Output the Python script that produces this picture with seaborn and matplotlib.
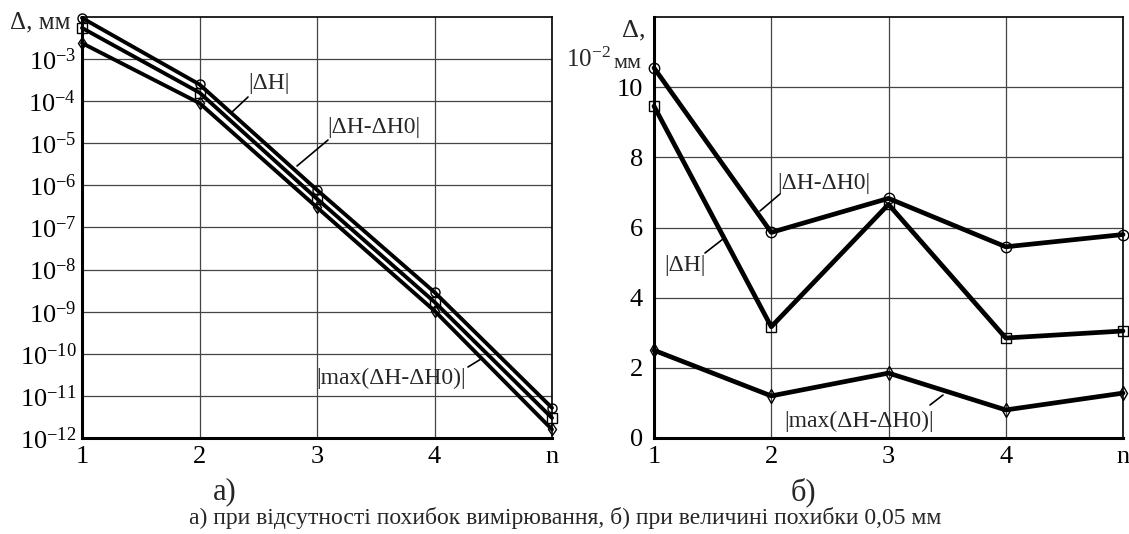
import numpy as np
import pandas as pd
import matplotlib
matplotlib.use("Agg")
import matplotlib.pyplot as plt
import seaborn as sns

sns.set_theme(style="white")
plt.rcParams['font.family'] = ['Liberation Serif', 'DejaVu Serif']
plt.rcParams['mathtext.fontset'] = 'custom'
plt.rcParams['mathtext.rm'] = 'Liberation Serif'
plt.rcParams['mathtext.it'] = 'Liberation Serif:italic'

# ---- data ----
n_values = [1, 2, 3, 4, 5]
x_tick_labels = ["1", "2", "3", "4", "n"]

# panel a) (log scale, mm)
a_dH = [9.5e-3, 2.5e-4, 7.8e-7, 2.9e-9, 5.2e-12]
a_dH_dH0 = [5.5e-3, 1.6e-4, 4.8e-7, 1.7e-9, 3.0e-12]
a_max = [2.4e-3, 9.0e-5, 3.0e-7, 1.05e-9, 1.6e-12]

# panel б) (10^-2 mm)
b_dH_dH0 = [10.55, 5.86, 6.83, 5.45, 5.8]
b_dH = [9.46, 3.17, 6.66, 2.85, 3.05]
b_max = [2.5, 1.2, 1.85, 0.8, 1.28]

a_yticks = [1e-12, 1e-11, 1e-10, 1e-9, 1e-8, 1e-7, 1e-6, 1e-5, 1e-4, 1e-3]
a_ytick_labels = [r"$10^{-12}$", r"$10^{-11}$", r"$10^{-10}$", r"$10^{-9}$", r"$10^{-8}$",
                  r"$10^{-7}$", r"$10^{-6}$", r"$10^{-5}$", r"$10^{-4}$", r"$10^{-3}$"]
b_yticks = [0, 2, 4, 6, 8, 10]

series_a = {"|ΔH|": (a_dH, "o"), "|ΔH-ΔH0|": (a_dH_dH0, "s"), "|max(ΔH-ΔH0)|": (a_max, "d")}
series_b = {"|ΔH-ΔH0|": (b_dH_dH0, "o"), "|ΔH|": (b_dH, "s"), "|max(ΔH-ΔH0)|": (b_max, "d")}

W, H = 1129, 534
fig = plt.figure(figsize=(W / 100, H / 100), dpi=100)
axA = fig.add_axes([82 / W, 1 - 438 / H, (552 - 82) / W, (438 - 17) / H])
axB = fig.add_axes([654 / W, 1 - 438 / H, (1123 - 654) / W, (438 - 17) / H])

for ax, series, lw, ms in ((axA, series_a, 2.8, 6.5), (axB, series_b, 3.4, 7.5)):
    for name, (vals, mk) in series.items():
        df = pd.DataFrame({"n": n_values, "v": vals})
        sns.lineplot(data=df, x="n", y="v", ax=ax, color="black", linewidth=lw,
                     marker=mk, markersize=ms, markerfacecolor="none",
                     markeredgecolor="black", markeredgewidth=1.0, clip_on=False, zorder=3)
    ax.set_xlim(1, 5)
    ax.set_xticks(n_values)
    ax.set_xticklabels(x_tick_labels, fontsize=19)
    ax.grid(True, color="#444444", linewidth=0.9)
    ax.set_xlabel("")
    ax.set_ylabel("")
    for s in ("top", "right"):
        ax.spines[s].set_color("black")
        ax.spines[s].set_linewidth(1.2)
    for s in ("left", "bottom"):
        ax.spines[s].set_color("black")
        ax.spines[s].set_linewidth(2.2)
    ax.tick_params(axis="both", length=0, pad=6, labelsize=19, colors="black")
    ax.set_axisbelow(True)

axA.set_yscale("log")
axA.set_ylim(1e-12, 1e-2)
axA.set_yticks(a_yticks)
axA.set_yticklabels(a_ytick_labels, fontsize=19)
axA.minorticks_off()
axA.tick_params(axis="y", pad=4)

axB.set_ylim(0, 12)
axB.set_yticks(b_yticks)
axB.set_yticklabels([str(v) for v in b_yticks], fontsize=19)
axB.tick_params(axis="y", pad=8)

# axis titles
fig.text(10 / W, 1 - 22 / H, "Δ, мм", fontsize=18, va="center", ha="left")
fig.text(622 / W, 1 - 30 / H, "Δ,", fontsize=19, va="center", ha="left")
fig.text(566 / W, 1 - 60 / H, r"$10^{-2}$", fontsize=18, va="center", ha="left")
fig.text(614 / W, 1 - 64 / H, "мм", fontsize=16, va="center", ha="left")

# annotations
def label(text, tx, ty, x0, y0, x1, y1):
    fig.text(tx / W, 1 - ty / H, text, fontsize=17, va="center", ha="left")
    fig.add_artist(plt.Line2D([x0 / W, x1 / W], [1 - y0 / H, 1 - y1 / H],
                              color="black", linewidth=1.2))

label("|ΔH|", 248, 83, 248, 97, 231, 113)
label("|ΔH-ΔH0|", 327, 127, 328, 140, 297, 166)
label("|max(ΔH-ΔH0)|", 316, 378, 468, 367, 481, 359)

label("|ΔH-ΔH0|", 777, 183, 780, 194, 760, 211)
label("|ΔH|", 664, 265, 705, 253, 723, 239)
label("|max(ΔH-ΔH0)|", 784, 421, 930, 405, 943, 395)

fig.text(225 / W, 1 - 492 / H, "а)", fontsize=22, va="center", ha="center")
fig.text(803 / W, 1 - 492 / H, "б)", fontsize=22, va="center", ha="center")
fig.text(565 / W, 1 - 518 / H,
         "а) при відсутності похибок вимірювання, б) при величині похибки 0,05 мм",
         fontsize=17, va="center", ha="center")

fig.savefig("out.png", dpi=100)
